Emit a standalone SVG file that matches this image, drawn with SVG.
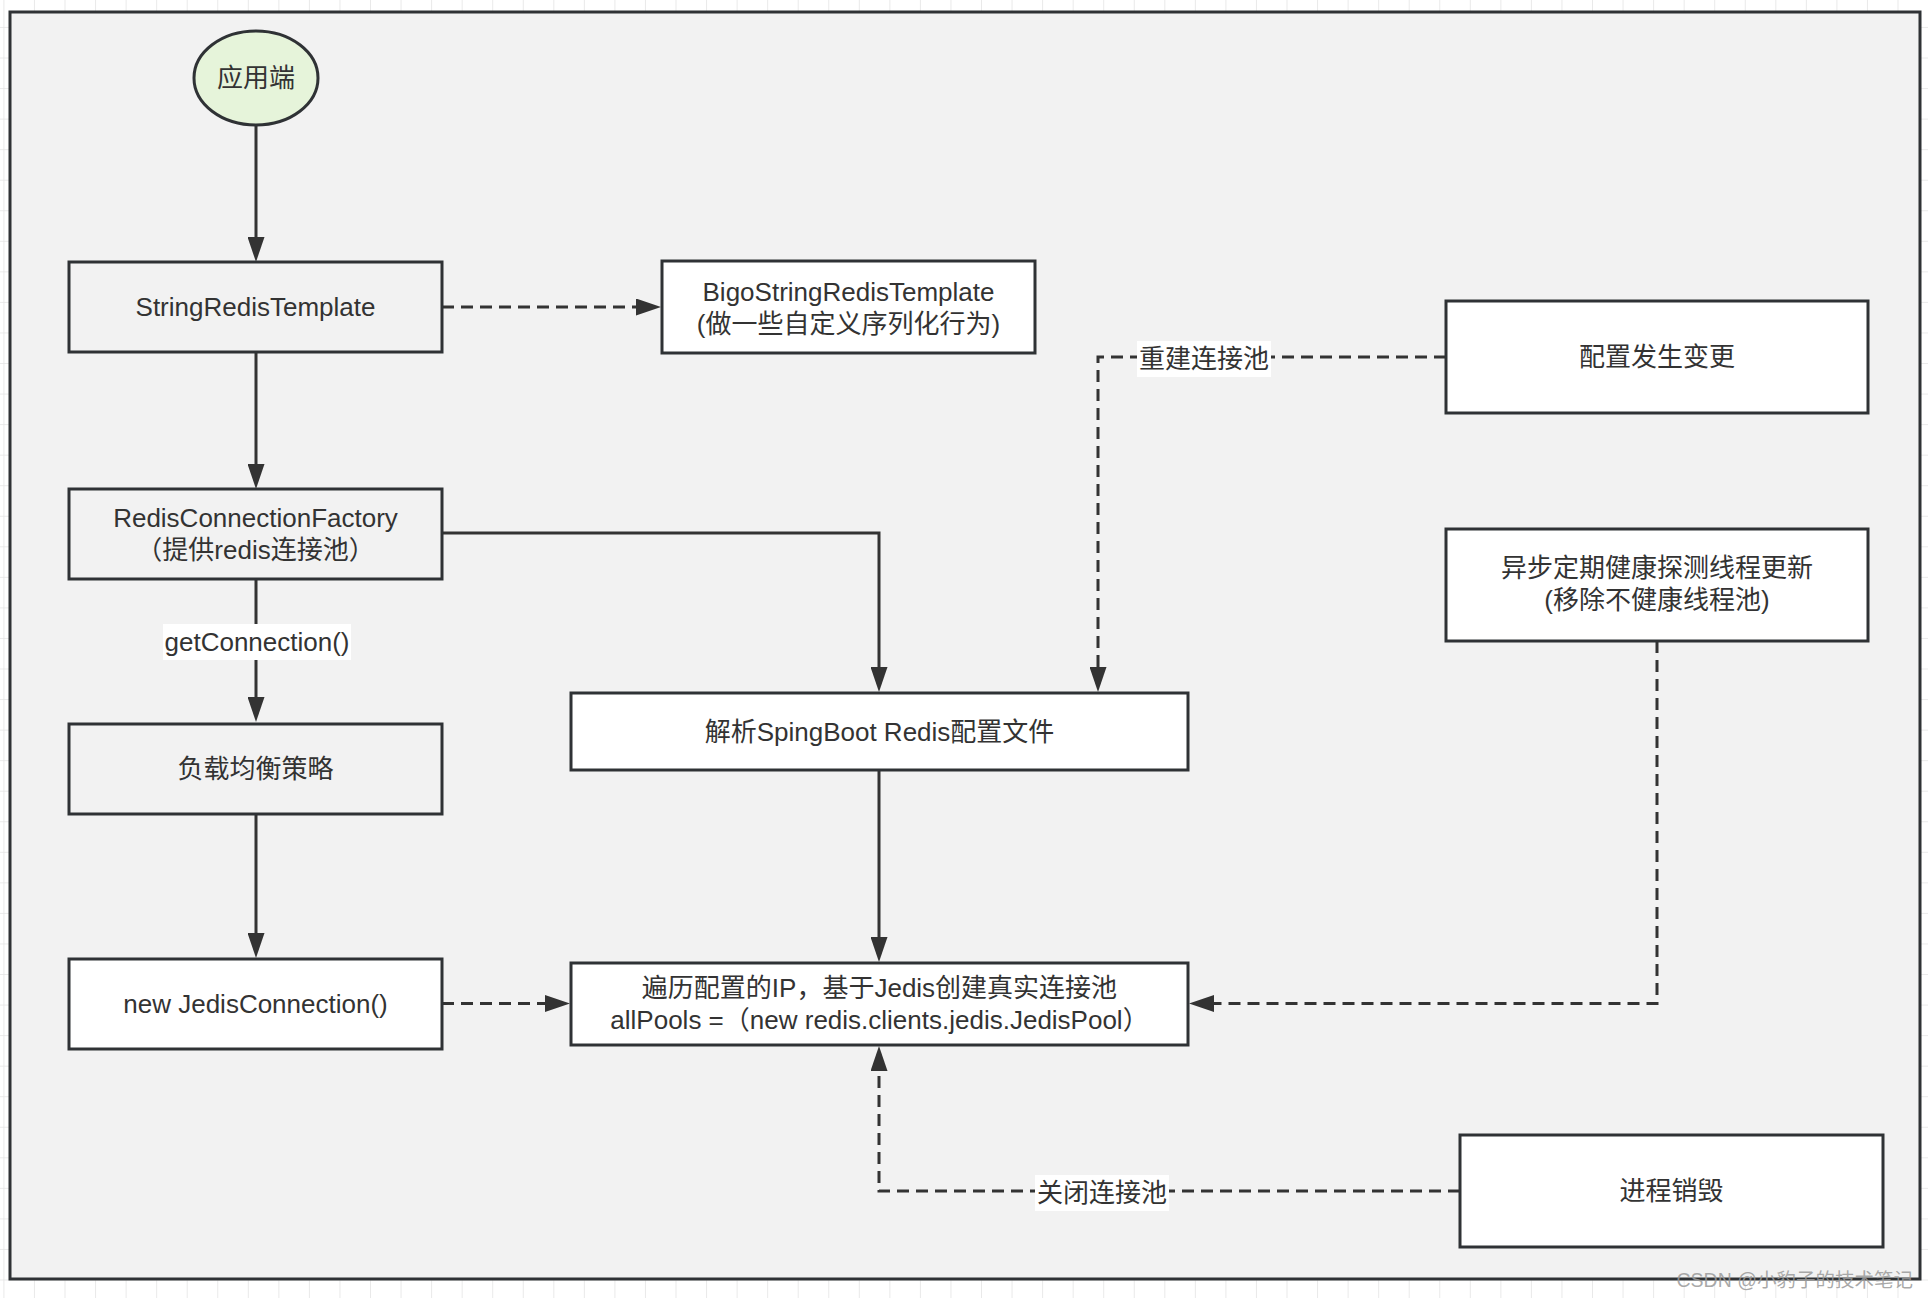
<svg xmlns="http://www.w3.org/2000/svg" width="1928" height="1298" viewBox="0 0 1928 1298">
  <defs>
    <pattern id="grid" x="4.4" y="-2.6" width="30.55" height="30.55" patternUnits="userSpaceOnUse">
      <path d="M30.55 0 V30.55 M0 30.55 H30.55" fill="none" stroke="#e3e3e3" stroke-width="1.5"/>
    </pattern>
    <marker id="arrow" viewBox="0 0 25 17" refX="15" refY="8.5" markerWidth="25" markerHeight="17" markerUnits="userSpaceOnUse" orient="auto">
      <path d="M0,0 L25,8.5 L0,17 Z" fill="#333333"/>
    </marker>
    <style>
      .box { stroke: #2f3235; stroke-width: 3; }
      .gray { fill: #f2f2f2; }
      .white { fill: #ffffff; }
      .t { font-family: "Liberation Sans", "Noto Sans CJK SC", sans-serif; font-size: 26px; fill: #333333; text-anchor: middle; dominant-baseline: central; }
      .line { fill: none; stroke: #333333; stroke-width: 3; }
      .dash { stroke-dasharray: 12 7; }
      .lbl { fill: #ffffff; }
    </style>
  </defs>

  <rect x="0" y="0" width="1928" height="1298" fill="#ffffff"/>
  <rect x="0" y="0" width="1928" height="1298" fill="url(#grid)"/>
  <rect id="frame" x="10" y="12" width="1910" height="1267" fill="#f2f2f2" stroke="#2f3235" stroke-width="3"/>

  <g id="connectors">
    <path class="line" d="M256 125 V252" marker-end="url(#arrow)"/>
    <path class="line" d="M256 352 V479" marker-end="url(#arrow)"/>
    <path class="line" d="M256 579 V712" marker-end="url(#arrow)"/>
    <path class="line" d="M256 814 V948" marker-end="url(#arrow)"/>
    <path class="line dash" d="M442 307 H651" marker-end="url(#arrow)"/>
    <path class="line" d="M442 533 H879 V682" marker-end="url(#arrow)"/>
    <path class="line dash" d="M1446 357 H1098 V682" marker-end="url(#arrow)"/>
    <path class="line" d="M879 770 V952" marker-end="url(#arrow)"/>
    <path class="line dash" d="M442 1003.5 H560" marker-end="url(#arrow)"/>
    <path class="line dash" d="M1657 641 V1003.5 H1199" marker-end="url(#arrow)"/>
    <path class="line dash" d="M1460 1191 H879 V1056" marker-end="url(#arrow)"/>
    <rect class="lbl" x="163" y="624" width="188" height="36"/>
    <text class="t" x="257" y="642">getConnection()</text>
    <rect class="lbl" x="1137" y="341" width="134" height="36"/>
    <text class="t" x="1204" y="359">重建连接池</text>
    <rect class="lbl" x="1035" y="1175" width="134" height="36"/>
    <text class="t" x="1102" y="1193">关闭连接池</text>
  </g>

  <g id="app">
    <ellipse cx="256" cy="78" rx="62" ry="47" fill="#e6f4da" stroke="#2f3235" stroke-width="3"/>
    <text class="t" x="256" y="78">应用端</text>
  </g>
  <g id="stringRedisTemplate">
    <rect class="box gray" x="69" y="262" width="373" height="90"/>
    <text class="t" x="255.5" y="307">StringRedisTemplate</text>
  </g>
  <g id="bigoTemplate">
    <rect class="box white" x="662" y="261" width="373" height="92"/>
    <text class="t" x="848.5" y="292">BigoStringRedisTemplate</text>
    <text class="t" x="848.5" y="324">(做一些自定义序列化行为)</text>
  </g>
  <g id="redisConnectionFactory">
    <rect class="box gray" x="69" y="489" width="373" height="90"/>
    <text class="t" x="255.5" y="518">RedisConnectionFactory</text>
    <text class="t" x="255.5" y="550">（提供redis连接池）</text>
  </g>
  <g id="loadBalance">
    <rect class="box gray" x="69" y="724" width="373" height="90"/>
    <text class="t" x="255.5" y="769">负载均衡策略</text>
  </g>
  <g id="newJedisConnection">
    <rect class="box white" x="69" y="959" width="373" height="90"/>
    <text class="t" x="255.5" y="1004">new JedisConnection()</text>
  </g>
  <g id="parseConfig">
    <rect class="box white" x="571" y="693" width="617" height="77"/>
    <text class="t" x="879.5" y="732">解析SpingBoot Redis配置文件</text>
  </g>
  <g id="createPools">
    <rect class="box white" x="571" y="963" width="617" height="82"/>
    <text class="t" x="879.5" y="988">遍历配置的IP，基于Jedis创建真实连接池</text>
    <text class="t" x="879.5" y="1020">allPools =（new redis.clients.jedis.JedisPool）</text>
  </g>
  <g id="configChange">
    <rect class="box white" x="1446" y="301" width="422" height="112"/>
    <text class="t" x="1657" y="357">配置发生变更</text>
  </g>
  <g id="healthCheck">
    <rect class="box white" x="1446" y="529" width="422" height="112"/>
    <text class="t" x="1657" y="568">异步定期健康探测线程更新</text>
    <text class="t" x="1657" y="600">(移除不健康线程池)</text>
  </g>
  <g id="processDestroy">
    <rect class="box white" x="1460" y="1135" width="423" height="112"/>
    <text class="t" x="1671.5" y="1191">进程销毁</text>
  </g>

  <text x="1913" y="1280" font-family="Liberation Sans, Noto Sans CJK SC, sans-serif" font-size="19.5" fill="#9a9a9a" fill-opacity="0.85" text-anchor="end" dominant-baseline="central">CSDN @小豹子的技术笔记</text>
</svg>
